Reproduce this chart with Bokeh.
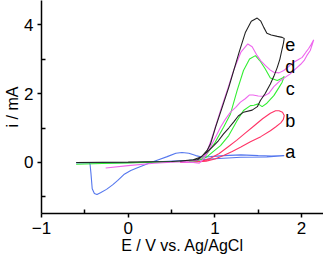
import numpy as np
from bokeh.plotting import figure
from bokeh.models import Range1d, FixedTicker, ColumnDataSource
from bokeh.core.properties import value
from bokeh.embed import file_html
from bokeh.resources import INLINE

# ---- data (E / V vs Ag/AgCl, i / mA) ----
E_a = [-0.60, -0.50, -0.45, -0.44, -0.43, -0.415, -0.39, -0.36, -0.32, -0.25, -0.18, -0.12, -0.05,
       0.03, 0.10, 0.18, 0.26, 0.35, 0.45, 0.55, 0.62, 0.70, 0.78, 0.85, 0.95, 1.10, 1.30, 1.50,
       1.65, 1.80, 1.60, 1.30, 1.00, 0.70, 0.40, 0.10, -0.20, -0.50, -0.60]
i_a = [0.00, 0.00, -0.01, -0.05, -0.30, -0.76, -0.90, -0.93, -0.88, -0.78, -0.65, -0.52, -0.35,
       -0.23, -0.16, -0.08, 0.00, 0.08, 0.17, 0.27, 0.29, 0.27, 0.20, 0.16, 0.17, 0.20, 0.22, 0.20,
       0.19, 0.20, 0.16, 0.15, 0.11, 0.06, 0.03, 0.00, -0.01, -0.01, -0.01]

E_b = [0.60, 0.75, 0.85, 0.95, 1.05, 1.15, 1.25, 1.35, 1.45, 1.55, 1.64, 1.70, 1.74, 1.78, 1.80,
       1.79, 1.76, 1.70, 1.64, 1.53, 1.41, 1.30, 1.20, 1.10, 1.00, 0.90, 0.75, 0.60]
i_b = [0.00, 0.02, 0.04, 0.12, 0.26, 0.45, 0.64, 0.85, 1.06, 1.27, 1.43, 1.50, 1.50, 1.46, 1.36,
       1.25, 1.15, 1.03, 0.92, 0.75, 0.60, 0.45, 0.32, 0.20, 0.10, 0.04, 0.01, 0.00]

E_c = [-0.60, -0.30, 0.00, 0.30, 0.60, 0.80, 0.90, 0.95, 1.00, 1.05, 1.10, 1.18, 1.257, 1.33,
       1.40, 1.468, 1.52, 1.58, 1.64, 1.72, 1.78, 1.80,
       1.776, 1.74, 1.68, 1.60, 1.545, 1.50, 1.45, 1.41, 1.33, 1.257, 1.16, 1.065, 0.987, 0.90,
       0.80, 0.70]
i_c = [-0.05, -0.03, -0.01, 0.01, 0.03, 0.08, 0.22, 0.40, 0.57, 0.80, 1.02, 1.41, 2.09, 2.67,
       3.00, 3.10, 2.95, 2.72, 2.45, 2.38, 2.45, 2.50,
       2.33, 2.18, 1.94, 1.72, 1.62, 1.70, 1.66, 1.65, 1.51, 1.22, 0.78, 0.49, 0.33, 0.15,
       0.05, 0.03]

E_d = [-0.26, 0.00, 0.30, 0.60, 0.80, 0.90, 0.95, 1.00, 1.07, 1.15, 1.22, 1.30, 1.38, 1.43,
       1.488, 1.53, 1.584, 1.64, 1.68, 1.74, 1.795, 1.85, 1.91, 1.96, 2.007, 2.05, 2.08, 2.11,
       2.14,
       2.12, 2.10, 2.06, 2.03, 1.99, 1.95, 1.91, 1.87, 1.81, 1.757, 1.68, 1.62, 1.56, 1.50, 1.44,
       1.40, 1.35, 1.295, 1.24, 1.18, 1.12, 1.065, 1.02, 0.987, 0.93, 0.88, 0.85, 0.82, 0.75,
       0.60]
i_d = [-0.16, -0.09, -0.02, 0.02, 0.06, 0.25, 0.60, 0.98, 1.55, 2.15, 2.70, 3.20, 3.44, 3.36,
       3.10, 2.95, 2.81, 2.68, 2.62, 2.60, 2.67, 2.78, 2.91, 2.98, 3.05, 3.20, 3.30, 3.42,
       3.56,
       3.40, 3.25, 3.10, 2.96, 2.85, 2.76, 2.67, 2.57, 2.47, 2.38, 2.20, 2.00, 1.92, 1.93, 1.96,
       1.96, 1.85, 1.75, 1.60, 1.46, 1.25, 1.02, 0.80, 0.64, 0.35, 0.15, 0.05, -0.02, 0.00,
       0.01]

E_e = [-0.60, 0.00, 0.50, 0.80, 0.85, 0.91, 0.95, 1.007, 1.084, 1.16, 1.218, 1.28, 1.353, 1.42,
       1.488, 1.53, 1.564, 1.60, 1.65, 1.72, 1.776, 1.80,
       1.79, 1.776, 1.75, 1.72, 1.68, 1.64, 1.58, 1.525, 1.49, 1.43, 1.33, 1.27, 1.218, 1.16,
       1.10, 1.04, 0.987, 0.91, 0.83, 0.75, 0.60]
i_e = [0.00, 0.01, 0.03, 0.08, 0.18, 0.35, 0.54, 1.02, 1.60, 2.18, 2.67, 3.20, 3.78, 4.10,
       4.19, 4.10, 3.92, 3.75, 3.70, 3.66, 3.63, 3.60,
       3.45, 3.30, 3.00, 2.76, 2.50, 2.28, 2.00, 1.80, 1.62, 1.52, 1.46, 1.35, 1.18, 1.00,
       0.83, 0.63, 0.49, 0.30, 0.15, 0.08, 0.04]

series_E = [E_a, E_b, E_c, E_d, E_e]
series_i = [i_a, i_b, i_c, i_d, i_e]
series_colors = ["#5577ee", "#ff3366", "#33ee33", "#ee66ee", "#222222"]

curve_names = ["a", "b", "c", "d", "e"]
name_E = [1.87, 1.87, 1.87, 1.87, 1.87]
name_i = [0.29, 1.19, 2.14, 2.78, 3.42]

x_ticks = [-1, 0, 1, 2]
x_minor = [-0.5, 0.5, 1.5]
y_ticks = [0, 2, 4]
y_minor = [-1, 1, 3]

x_title = "E / V vs. Ag/AgCl"
y_title = "i / mA"

FONT = "Liberation Sans"

p = figure(width=323, height=259, output_backend="svg", toolbar_location=None,
           x_range=Range1d(-1, 2.253), y_range=Range1d(-1.48, 4.70),
           min_border_left=41, min_border_right=0, min_border_top=0, min_border_bottom=46)
p.outline_line_color = None
p.xgrid.visible = False
p.ygrid.visible = False
p.background_fill_color = "white"
p.border_fill_color = "white"

for E, I, c in zip(series_E, series_i, series_colors):
    p.line(E, I, line_color=c, line_width=1.1)

src = ColumnDataSource(dict(x=name_E, y=name_i, t=curve_names))
p.text(x="x", y="y", text="t", source=src, text_font=value(FONT), text_font_size="18px",
       text_align="center", text_baseline="middle", text_color="black")

for ax, maj, mnr in ((p.xaxis[0], x_ticks, x_minor), (p.yaxis[0], y_ticks, y_minor)):
    ax.ticker = FixedTicker(ticks=maj, minor_ticks=mnr)
    ax.axis_line_width = 1.5
    ax.axis_line_color = "black"
    ax.major_tick_line_width = 1.5
    ax.minor_tick_line_width = 1.5
    ax.major_tick_out = 4
    ax.major_tick_in = 0
    ax.minor_tick_in = 4
    ax.minor_tick_out = 0
    ax.major_label_text_font = FONT
    ax.major_label_text_font_size = "17px"
    ax.major_label_text_color = "black"
    ax.axis_label_text_font = FONT
    ax.axis_label_text_font_size = "16px"
    ax.axis_label_text_font_style = "normal"
    ax.axis_label_text_color = "black"
p.xaxis.axis_label = x_title
p.yaxis.axis_label = y_title
p.xaxis.major_label_standoff = 4
p.yaxis.major_label_standoff = 4
p.xaxis.axis_label_standoff = 0
p.yaxis.axis_label_standoff = 0

open("out.html", "w").write(file_html(p, INLINE))
